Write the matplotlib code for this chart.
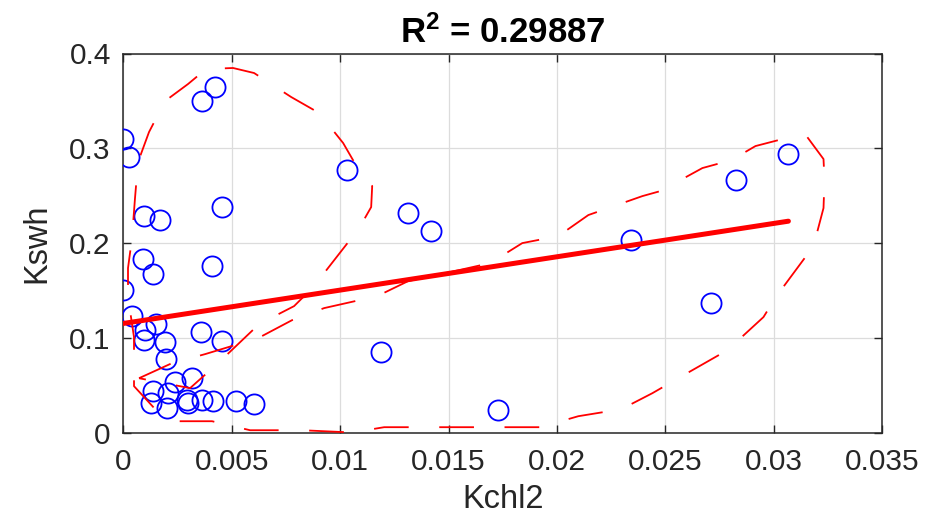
import matplotlib
matplotlib.use("Agg")
import matplotlib.pyplot as plt
import numpy as np

plt.rcParams['font.family'] = ['Liberation Sans', 'DejaVu Sans']
plt.rcParams['mathtext.fontset'] = 'custom'
plt.rcParams['mathtext.rm'] = 'Liberation Sans'
plt.rcParams['mathtext.bf'] = 'Liberation Sans:bold'
plt.rcParams['lines.scale_dashes'] = False

# ---- data ----
kchl2 = [0.0, 0.00026, 0.00362, 0.00423, 0.00097, 0.00169, 0.00457, 0.00092,
         0.00136, 0.00408, 0.0, 0.00039, 0.00151, 0.0010, 0.00097, 0.00192,
         0.00357, 0.00457, 0.00196, 0.00316, 0.0024, 0.00138, 0.00208, 0.00126,
         0.00203, 0.00295, 0.0030, 0.00362, 0.00415, 0.00519, 0.00605, 0.0103,
         0.01189, 0.01311, 0.0142, 0.01726, 0.02341, 0.02827, 0.03067, 0.02712]
kswh = [0.310, 0.291, 0.350, 0.365, 0.228, 0.224, 0.238, 0.183,
        0.167, 0.176, 0.150, 0.123, 0.114, 0.108, 0.098, 0.095,
        0.1056, 0.0967, 0.078, 0.0577, 0.0534, 0.044, 0.042, 0.031,
        0.026, 0.034, 0.031, 0.034, 0.0334, 0.0334, 0.030, 0.277,
        0.0845, 0.232, 0.2126, 0.0235, 0.203, 0.266, 0.294, 0.1369]

fit_intercept = 0.1151
fit_slope = 3.519
r_squared = 0.29887

# dashed boundary curve (data coordinates)
boundary_x = [0.000725, 0.002247, 0.00377, 0.006216, 0.007785, 0.009262, 0.011708,
              0.013138, 0.015076, 0.016922, 0.018399, 0.02006, 0.021445, 0.023937,
              0.024767, 0.026705, 0.028044, 0.029151, 0.030397, 0.031504, 0.032289,
              0.032335, 0.032289, 0.031827, 0.031181, 0.03012, 0.02952, 0.027859,
              0.025921, 0.024398, 0.022967, 0.020983, 0.01923, 0.016138, 0.014569,
              0.01203, 0.010554, 0.008247, 0.005847, 0.004093, 0.00234, 0.001601,
              0.000494, 0.000494, 0.000494, 0.000217, 0.000217, 0.000401, 0.00054,
              0.000678, 0.001186, 0.001924, 0.002986, 0.003816, 0.005062, 0.006031,
              0.007739, 0.009031, 0.010138, 0.010646, 0.011477, 0.01143, 0.010877,
              0.008754, 0.007877, 0.006262, 0.00437, 0.003078, 0.000725]
boundary_y = [0.0573, 0.0732, 0.0827, 0.0996, 0.1186, 0.1313, 0.1439,
              0.1598, 0.1693, 0.1788, 0.1999, 0.2073, 0.2295, 0.2495,
              0.2548, 0.2791, 0.2875, 0.3023, 0.3097, 0.3129, 0.2886,
              0.2664, 0.2369, 0.1967, 0.1767, 0.1439, 0.1218, 0.0869,
              0.0616, 0.0415, 0.0246, 0.0172, 0.0056, 0.0056, 0.0056,
              0.0056, 0.0, 0.0024, 0.0024, 0.0119, 0.0119, 0.0214,
              0.0489, 0.0774, 0.1006, 0.1429, 0.1735, 0.2052, 0.2474,
              0.2854, 0.3171, 0.3498, 0.3678, 0.3836, 0.3847, 0.3794,
              0.3541, 0.3372, 0.3055, 0.2854, 0.2601, 0.2379, 0.2157,
              0.1534, 0.1334, 0.1144, 0.0732, 0.0468, 0.0573]

xticks = [0, 0.005, 0.01, 0.015, 0.02, 0.025, 0.03, 0.035]
xticklabels = ['0', '0.005', '0.01', '0.015', '0.02', '0.025', '0.03', '0.035']
yticks = [0, 0.1, 0.2, 0.3, 0.4]
yticklabels = ['0', '0.1', '0.2', '0.3', '0.4']

# ---- plot ----
fig = plt.figure(figsize=(9.35, 5.27), dpi=100)
ax = fig.add_axes([123.3 / 935, 1 - 432.5 / 527, (882.3 - 123.3) / 935, (432.5 - 53.5) / 527])

dark = '#262626'
ax.grid(True, color='#dcdcdc', linewidth=0.9)
ax.set_axisbelow(True)

ax.plot(kchl2, kswh, 'o', markersize=14.5, markerfacecolor='none',
        markeredgecolor='#0000ff', markeredgewidth=1.3, zorder=3)

xs = np.array(kchl2)
xl = np.array([xs.min(), xs.max()])
ax.plot(xl, fit_intercept + fit_slope * xl, color='#ff0000', linewidth=3.6,
        solid_capstyle='round', zorder=4)

ax.plot(boundary_x, boundary_y, color='#ff0000', linewidth=1.3,
        linestyle=(0, (25, 22)), zorder=4, clip_on=False)

ax.set_xlim(0, 0.035)
ax.set_ylim(0, 0.4)
ax.set_xticks(xticks)
ax.set_xticklabels(xticklabels)
ax.set_yticks(yticks)
ax.set_yticklabels(yticklabels)

ax.tick_params(direction='in', length=6, width=1.0, colors=dark,
               labelsize=21.5, top=True, right=True, pad=9)
ax.tick_params(axis='x', pad=11)
for s in ax.spines.values():
    s.set_color(dark)
    s.set_linewidth(1.1)

ax.set_xlabel('Kchl2', fontsize=23.5, color=dark, labelpad=6)
ax.set_ylabel('Kswh', fontsize=23.5, color=dark, labelpad=12)
ax.set_title(r'$\mathbf{R^2}$ = ' + f'{r_squared:.5f}', fontsize=25,
             fontweight='bold', color='black', pad=8)

fig.savefig('out.png', dpi=100)
